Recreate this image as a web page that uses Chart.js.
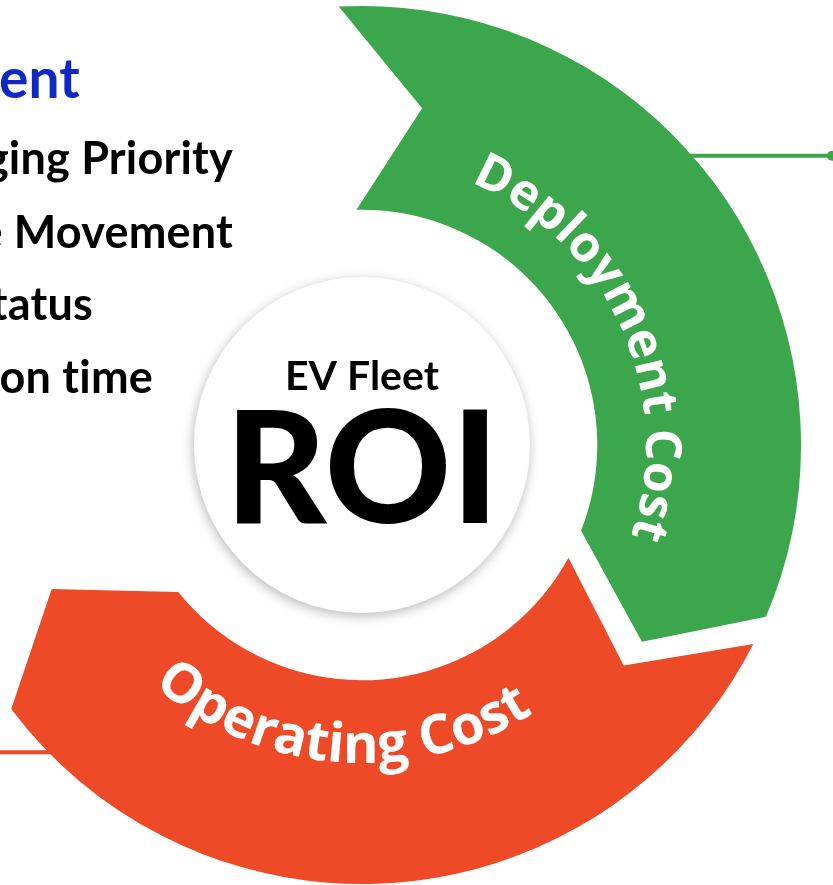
<!DOCTYPE html>
<html>
<head>
<meta charset="utf-8">
<title>EV Fleet ROI</title>
<script src="https://cdn.jsdelivr.net/npm/chart.js@4.4.1/dist/chart.umd.min.js"></script>
<style>
  html, body { margin: 0; padding: 0; background: #fff; overflow: hidden; }
  #wrap { position: relative; width: 833px; height: 885px; }
</style>
</head>
<body>
<div id="wrap"><canvas id="roiChart" width="833" height="885"></canvas></div>
<script>
// ring segments (degrees of the circle each one takes)
const segmentLabels = ['Deployment Cost', 'Operating Cost', ''];
const segmentValues = [120, 120, 120];
const segmentColors = ['#3ba64b', '#ee4a27', 'rgba(0,0,0,0)'];

// text fragments on the left (cut off by the picture edge)
const sideHeading = 'ent';
const sideItems = ['ging Priority', 'e Movement', 'tatus', 'on time'];

// centre of the ring
const centerTitle = 'EV Fleet';
const centerBig = 'ROI';

// draws one segment as a curved arrow: notch at the tail, point at the head
function arrowPath(ctx, x, y, a0, a1, rIn, rOut) {
  const gap = 15;
  const depth = 12.6 * Math.PI / 180;
  const rMid = (rIn + rOut) / 2 + 5;
  ctx.beginPath();
  ctx.arc(x, y, rOut, a0 + gap / rOut, a1 - gap / rOut, false);
  const tip = a1 - gap / rMid + depth;
  ctx.lineTo(x + rMid * Math.cos(tip), y + rMid * Math.sin(tip));
  ctx.arc(x, y, rIn, a1 - gap / rIn, a0 + gap / rIn, true);
  const notch = a0 + gap / rMid + depth;
  ctx.lineTo(x + rMid * Math.cos(notch), y + rMid * Math.sin(notch));
  ctx.closePath();
}

// curved label sized to fill the angle range;
// outward = letters stand away from the centre and read clockwise
function arcText(ctx, text, x, y, r, a0, a1, outward, family) {
  const span = Math.abs(a1 - a0);
  ctx.font = '700 100px ' + family;
  const size = 100 * span * r / ctx.measureText(text).width;
  ctx.font = '700 ' + size.toFixed(1) + 'px ' + family;
  ctx.textAlign = 'center';
  ctx.textBaseline = 'alphabetic';
  let a = outward ? Math.min(a0, a1) : Math.max(a0, a1);
  [...text].forEach(c => {
    const step = ctx.measureText(c).width / r;
    const mid = outward ? a + step / 2 : a - step / 2;
    ctx.save();
    ctx.translate(x + r * Math.cos(mid), y + r * Math.sin(mid));
    ctx.rotate(outward ? mid + Math.PI / 2 : mid - Math.PI / 2);
    ctx.fillText(c, 0, 0);
    ctx.restore();
    a = outward ? a + step : a - step;
  });
}

const deg = Math.PI / 180;

const ringPlugin = {
  id: 'ringArrows',
  beforeDatasetDraw() { return false; },
  afterDatasetsDraw(chart) {
    const ctx = chart.ctx;
    const arcs = chart.getDatasetMeta(0).data;
    const cx = arcs[0].x, cy = arcs[0].y;

    // connector lines leaving the ring
    const rOut0 = arcs[0].outerRadius;
    ctx.save();
    ctx.lineWidth = 4;
    const ga = -41.2 * deg;
    ctx.strokeStyle = segmentColors[0];
    ctx.beginPath();
    ctx.moveTo(cx + (rOut0 - 4) * Math.cos(ga), cy + rOut0 * Math.sin(ga));
    ctx.lineTo(829, cy + rOut0 * Math.sin(ga));
    ctx.stroke();
    ctx.fillStyle = segmentColors[0];
    ctx.beginPath();
    ctx.arc(832, cy + rOut0 * Math.sin(ga), 5, 0, Math.PI * 2);
    ctx.fill();
    const ra = 135.6 * deg;
    ctx.strokeStyle = segmentColors[1];
    ctx.beginPath();
    ctx.moveTo(0, cy + rOut0 * Math.sin(ra));
    ctx.lineTo(cx + (rOut0 - 4) * Math.cos(ra), cy + rOut0 * Math.sin(ra));
    ctx.stroke();
    ctx.restore();

    arcs.forEach((arc, i) => {
      if (!segmentLabels[i]) return;
      const p = arc.getProps(['x', 'y', 'startAngle', 'endAngle', 'innerRadius', 'outerRadius'], true);
      ctx.save();
      ctx.fillStyle = segmentColors[i];
      arrowPath(ctx, p.x, p.y, p.startAngle, p.endAngle, p.innerRadius, p.outerRadius);
      ctx.fill();
      ctx.restore();
    });

    // labels on the ring
    ctx.save();
    ctx.fillStyle = '#ffffff';
    arcText(ctx, segmentLabels[0], cx, cy, 284, -67.5 * deg, 18.8 * deg, true, '"Open Sans", sans-serif');
    arcText(ctx, segmentLabels[1], cx, cy, 318, 131 * deg, 57.4 * deg, false, '"Open Sans", sans-serif');
    ctx.restore();

    // white disc in the middle
    ctx.save();
    ctx.shadowColor = 'rgba(0,0,0,0.28)';
    ctx.shadowBlur = 12;
    ctx.shadowOffsetY = 3;
    ctx.shadowOffsetX = -1;
    ctx.fillStyle = '#ffffff';
    ctx.beginPath();
    ctx.arc(cx, cy, 168, 0, Math.PI * 2);
    ctx.fill();
    ctx.restore();

    ctx.save();
    ctx.fillStyle = '#000000';
    ctx.textAlign = 'center';
    ctx.textBaseline = 'alphabetic';
    ctx.font = 'bold 41px Lato, sans-serif';
    ctx.fillText(centerTitle, cx, cy - 55);
    ctx.font = '900 156px Lato, sans-serif';
    ctx.fillText(centerBig, cx, cy + 78);
    ctx.restore();

    // cut-off list on the left
    ctx.save();
    ctx.letterSpacing = '0.2px'; // keeps "ti" from turning into a ligature
    ctx.textAlign = 'right';
    ctx.textBaseline = 'alphabetic';
    ctx.fillStyle = '#1029c4';
    ctx.font = 'bold 55px Lato, sans-serif';
    ctx.fillText(sideHeading, 80, 98);
    ctx.fillStyle = '#000000';
    ctx.font = 'bold 45px Lato, sans-serif';
    const rights = [233, 233, 93, 153];
    const bases = [174, 248, 320, 393];
    sideItems.forEach((t, i) => ctx.fillText(t, rights[i], bases[i]));
    ctx.restore();
  }
};

new Chart(document.getElementById('roiChart').getContext('2d'), {
  type: 'doughnut',
  data: {
    labels: segmentLabels,
    datasets: [{
      data: segmentValues,
      backgroundColor: segmentColors,
      borderWidth: 0
    }]
  },
  options: {
    responsive: false,
    animation: false,
    rotation: -5,
    radius: 439,
    cutout: 194,
    layout: { padding: { left: 0, right: 109, top: 5, bottom: 0 } },
    plugins: {
      legend: { display: false },
      tooltip: { enabled: false }
    }
  },
  plugins: [ringPlugin]
});
</script>
</body>
</html>
